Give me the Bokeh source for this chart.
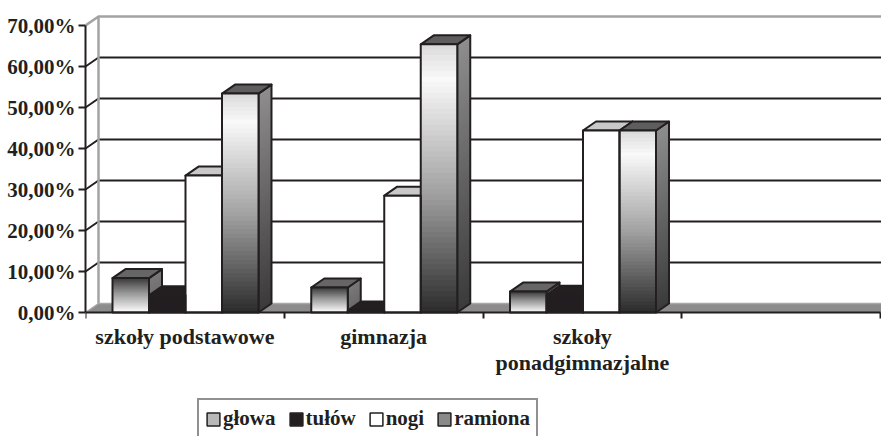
from bokeh.plotting import figure
from bokeh.models import Range1d, FixedTicker, Legend, LegendItem, ColumnDataSource
from bokeh.embed import file_html
from bokeh.resources import INLINE

# ---------------- data ----------------
categories = ["szkoły podstawowe", "gimnazja", "szkoły\nponadgimnazjalne", ""]
series = ["głowa", "tułów", "nogi", "ramiona"]
glowa = [8.4, 6.1, 5.1, None]
tulow = [4.2, 0.5, 4.3, None]
nogi = [33.4, 28.5, 44.4, None]
ramiona = [53.4, 65.4, 44.4, None]
y_ticks = [0, 10, 20, 30, 40, 50, 60, 70]
y_tick_labels = ["0,00%", "10,00%", "20,00%", "30,00%", "40,00%", "50,00%", "60,00%", "70,00%"]

values = [glowa, tulow, nogi, ramiona]

# ---------------- styles ----------------
FONT = "Liberation Serif"
INK = "#231f20"
front_stops = [
    [(0.0, "#3a3a3a"), (0.45, "#9a9a9a"), (1.0, "#ffffff")],          # głowa
    [(0.0, INK), (1.0, INK)],                                          # tułów
    [(0.0, "#ffffff"), (1.0, "#ffffff")],                              # nogi
    [(0.0, "#dadada"), (0.13, "#f9f9f9"), (0.55, "#a2a2a2"), (1.0, "#2b2b2b")],  # ramiona
]
side_stops = [
    [(0.0, "#7a7a7a"), (1.0, "#6a6a6a")],
    [(0.0, INK), (1.0, INK)],
    [(0.0, "#a0a0a0"), (1.0, "#8a8a8a")],
    [(0.0, "#8e8e8e"), (1.0, "#3a3a3a")],
]
top_colors = ["#666666", INK, "#c9c9c9", "#5e5e5e"]
legend_colors = ["#b8b8b8", INK, "#ffffff", "#8a8a8a"]

# ---------------- geometry (pixels -> data units) ----------------
W, H = 881, 436
LEFT = 85            # y-axis position
ZERO_PX = 312        # pixel row of 0 %
CAT_PX = 198.75
PX_PER_PCT = 4.1
X_END = (W - LEFT) / CAT_PX
Y_START = -(H - ZERO_PX) / PX_PER_PCT
Y_END = ZERO_PX / PX_PER_PCT
DX = 13 / CAT_PX
DY = 9 / PX_PER_PCT
GAP = 27 / CAT_PX
BW = 36.5 / CAT_PX
NSTRIP = 50
OVER = 1.0 / PX_PER_PCT


def hex2rgb(h):
    h = h.lstrip("#")
    return tuple(int(h[i:i + 2], 16) for i in (0, 2, 4))


def grad(stops, t):
    for (t0, c0), (t1, c1) in zip(stops[:-1], stops[1:]):
        if t <= t1 or (t1 == stops[-1][0]):
            f = 0 if t1 == t0 else min(max((t - t0) / (t1 - t0), 0), 1)
            a, b = hex2rgb(c0), hex2rgb(c1)
            return "#%02x%02x%02x" % tuple(round(a[k] + (b[k] - a[k]) * f) for k in range(3))
    return stops[-1][1]


p = figure(width=W, height=H, output_backend="svg", toolbar_location=None,
           x_range=Range1d(0, X_END), y_range=Range1d(Y_START, Y_END),
           min_border_left=LEFT, min_border_right=0, min_border_top=0, min_border_bottom=0)
p.outline_line_color = None
p.grid.visible = False
p.background_fill_color = "white"
p.border_fill_color = "white"

# ---------------- walls & floor ----------------
grid_levels = [t for t in y_ticks if 0 < t < 70]
p.multi_line(xs=[[0, DX, X_END] for _ in grid_levels],
             ys=[[v, v + DY, v + DY] for v in grid_levels],
             line_color=INK, line_width=2)
top = y_ticks[-1]
p.line(x=[0, DX, X_END], y=[top, top + DY, top + DY], line_color="#a3a3a3", line_width=2.5)
p.line(x=[DX, DX], y=[DY, top + DY], line_color="#a3a3a3", line_width=2.5)
p.patch(x=[0, X_END, X_END, DX], y=[0, 0, DY, DY], fill_color="#8c8c8c", line_color=None)
p.line(x=[0, DX, X_END], y=[0, DY, DY], line_color="#a8a8a8", line_width=1.5)

# ---------------- bars ----------------
side_strips = dict(xs=[], ys=[], c=[])
side_outl = dict(xs=[], ys=[])
tops = dict(xs=[], ys=[], c=[])
front_strips = dict(l=[], r=[], b=[], t=[], c=[])
front_outl = dict(l=[], r=[], b=[], t=[])

for i in range(len(categories)):
    for j, vals in enumerate(values):
        h = vals[i]
        if h is None:
            continue
        L = i + GAP + j * BW
        R = L + BW
        for k in range(NSTRIP):
            y0 = h * k / NSTRIP
            y1 = min(h, h * (k + 1) / NSTRIP + OVER)
            tt = 1 - (k + 0.5) / NSTRIP
            front_strips["l"].append(L)
            front_strips["r"].append(R)
            front_strips["b"].append(y0)
            front_strips["t"].append(y1)
            front_strips["c"].append(grad(front_stops[j], tt))
            side_strips["xs"].append([R, R + DX, R + DX, R])
            side_strips["ys"].append([y0, y0 + DY, y1 + DY, y1])
            side_strips["c"].append(grad(side_stops[j], tt))
        front_outl["l"].append(L)
        front_outl["r"].append(R)
        front_outl["b"].append(0)
        front_outl["t"].append(h)
        side_outl["xs"].append([R, R + DX, R + DX, R])
        side_outl["ys"].append([0, DY, h + DY, h])
        tops["xs"].append([L, R, R + DX, L + DX])
        tops["ys"].append([h, h, h + DY, h + DY])
        tops["c"].append(top_colors[j])

p.patches(xs="xs", ys="ys", fill_color="c", line_color=None, source=ColumnDataSource(side_strips))
p.patches(xs="xs", ys="ys", fill_color=None, line_color=INK, line_width=2, line_join="round",
          source=ColumnDataSource(side_outl))
p.patches(xs="xs", ys="ys", fill_color="c", line_color=INK, line_width=2, line_join="round",
          source=ColumnDataSource(tops))
p.quad(left="l", right="r", bottom="b", top="t", fill_color="c", line_color=None,
       source=ColumnDataSource(front_strips))
p.quad(left="l", right="r", bottom="b", top="t", fill_color=None, line_color=INK, line_width=2,
       line_join="round", source=ColumnDataSource(front_outl))

# ---------------- axes ----------------
ya = p.yaxis[0]
ya.ticker = FixedTicker(ticks=y_ticks)
ya.major_label_overrides = {t: lab for t, lab in zip(y_ticks, y_tick_labels)}
ya.bounds = (0, 70)
ya.axis_line_color = INK
ya.axis_line_width = 2
ya.major_tick_line_color = INK
ya.major_tick_line_width = 2
ya.major_tick_out = 7
ya.major_tick_in = 0
ya.minor_tick_line_color = None
ya.major_label_standoff = 3
ya.major_label_text_font = FONT
ya.major_label_text_font_style = "bold"
ya.major_label_text_font_size = "21px"
ya.major_label_text_color = INK

xa = p.xaxis[0]
centers = [i + 0.5 for i in range(len(categories))]
bounds_ticks = [float(i) for i in range(len(categories) + 1)]
xa.fixed_location = 0
xa.ticker = FixedTicker(ticks=centers, minor_ticks=bounds_ticks)
xa.major_label_overrides = {c: lab for c, lab in zip(centers, categories)}
xa.bounds = (0, len(categories))
xa.axis_line_color = INK
xa.axis_line_width = 2
xa.major_tick_line_color = None
xa.major_tick_out = 0
xa.major_tick_in = 0
xa.minor_tick_line_color = INK
xa.minor_tick_line_width = 2
xa.minor_tick_out = 6
xa.minor_tick_in = 0
xa.major_label_standoff = 5
xa.major_label_text_font = FONT
xa.major_label_text_font_style = "bold"
xa.major_label_text_font_size = "22px"
xa.major_label_text_color = INK
xa.major_label_text_line_height = 1.05

# ---------------- legend ----------------
nan = float("nan")
items = []
for name, col in zip(series, legend_colors):
    # legend proxy: NaN geometry is never drawn on the plot, only its style is used
    r = p.quad(left=[nan], right=[nan], bottom=[nan], top=[nan],
               fill_color=col, line_color=INK, line_width=1.5)
    items.append(LegendItem(label=name, renderers=[r]))

legend = Legend(items=items, orientation="horizontal", location=(112, -3), margin=0,
                padding=6, spacing=12, glyph_width=16, glyph_height=16, label_standoff=2,
                label_text_font=FONT, label_text_font_style="bold", label_text_font_size="21px",
                label_text_color=INK, border_line_color=INK, border_line_width=2,
                background_fill_color="white", background_fill_alpha=1.0)
p.add_layout(legend, "center")

open("out.html", "w").write(file_html(p, INLINE))
